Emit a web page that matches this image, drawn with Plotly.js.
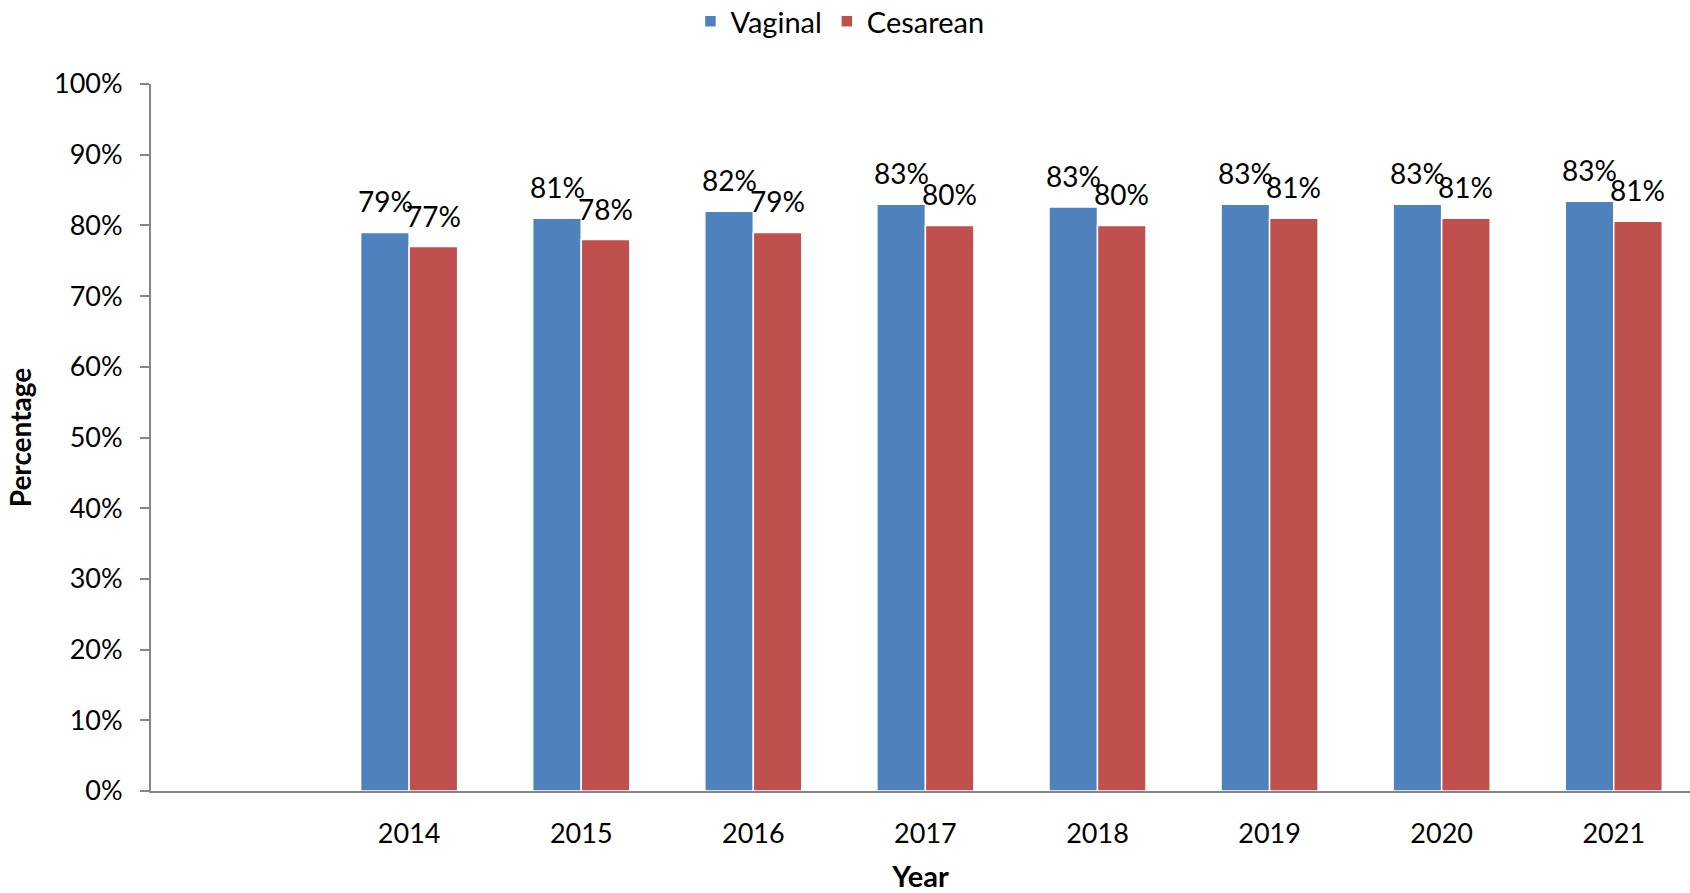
<!DOCTYPE html>
<html>
<head>
<meta charset="utf-8">
<script src="https://cdn.plot.ly/plotly-3.0.1.min.js"></script>
<style>html,body{margin:0;padding:0;background:#fff;}#chart{width:1690px;height:893px;}</style>
</head>
<body>
<div id="chart"></div>
<script>
const years = [2014, 2015, 2016, 2017, 2018, 2019, 2020, 2021];
const vaginal = [79, 81, 82, 83, 82.6, 83, 83, 83.4];
const cesarean = [77, 78, 79, 80, 80, 81, 81, 80.6];
const yTicks = [0,10,20,30,40,50,60,70,80,90,100];

const FONT = "Lato, 'Open Sans', sans-serif";
const blue = "#4F81BD", red = "#C0504D";

const traces = [
  {type:"bar", name:"Vaginal", x:years, y:vaginal, marker:{color:blue, line:{color:"#ffffff", width:1.5}}, hoverinfo:"none"},
  {type:"bar", name:"Cesarean", x:years, y:cesarean, marker:{color:red, line:{color:"#ffffff", width:1.5}}, hoverinfo:"none"}
];

const annotations = [];
years.forEach((yr,i)=>{
  annotations.push({x:yr, y:vaginal[i], xref:"x", yref:"y", text:Math.round(vaginal[i])+"%", showarrow:false, xshift:-24, yshift:12, yanchor:"bottom", font:{family:FONT, size:28, color:"#000"}});
  annotations.push({x:yr, y:cesarean[i], xref:"x", yref:"y", text:Math.round(cesarean[i])+"%", showarrow:false, xshift:24, yshift:12, yanchor:"bottom", font:{family:FONT, size:28, color:"#000"}});
});

const layout = {
  width:1690, height:893,
  margin:{l:151, r:0, t:84, b:102},
  paper_bgcolor:"#fff", plot_bgcolor:"#fff",
  font:{family:FONT, size:27, color:"#000"},
  barmode:"group", bargap:0.436, bargroupgap:0,
  showlegend:true,
  legend:{orientation:"h", xref:"container", yref:"container", x:0.497, xanchor:"center", y:0.976, yanchor:"middle", font:{family:FONT, size:29}, itemwidth:30, tracegroupgap:0},
  xaxis:{type:"linear", range:[2012.5, 2021.443], tickvals:years, ticktext:years.map(String), showgrid:false, zeroline:false, showline:true, linecolor:"#868686", linewidth:2, ticks:"", tickfont:{family:FONT, size:27}, ticklabelstandoff:18, title:{text:"<b>Year</b>", font:{family:FONT, size:29}, standoff:28}, automargin:false, fixedrange:true},
  yaxis:{range:[0,100], tickvals:yTicks, ticktext:yTicks.map(v=>v+"%"), showgrid:false, zeroline:false, showline:true, linecolor:"#868686", linewidth:2, ticks:"outside", ticklen:9, tickcolor:"#868686", tickwidth:2, tickfont:{family:FONT, size:27}, ticklabelstandoff:12, title:{text:"<b>Percentage</b>", font:{family:FONT, size:28}, standoff:14}, automargin:false, fixedrange:true},
  annotations:annotations
};

Plotly.newPlot("chart", traces, layout, {displayModeBar:false, staticPlot:true});
</script>
</body>
</html>
